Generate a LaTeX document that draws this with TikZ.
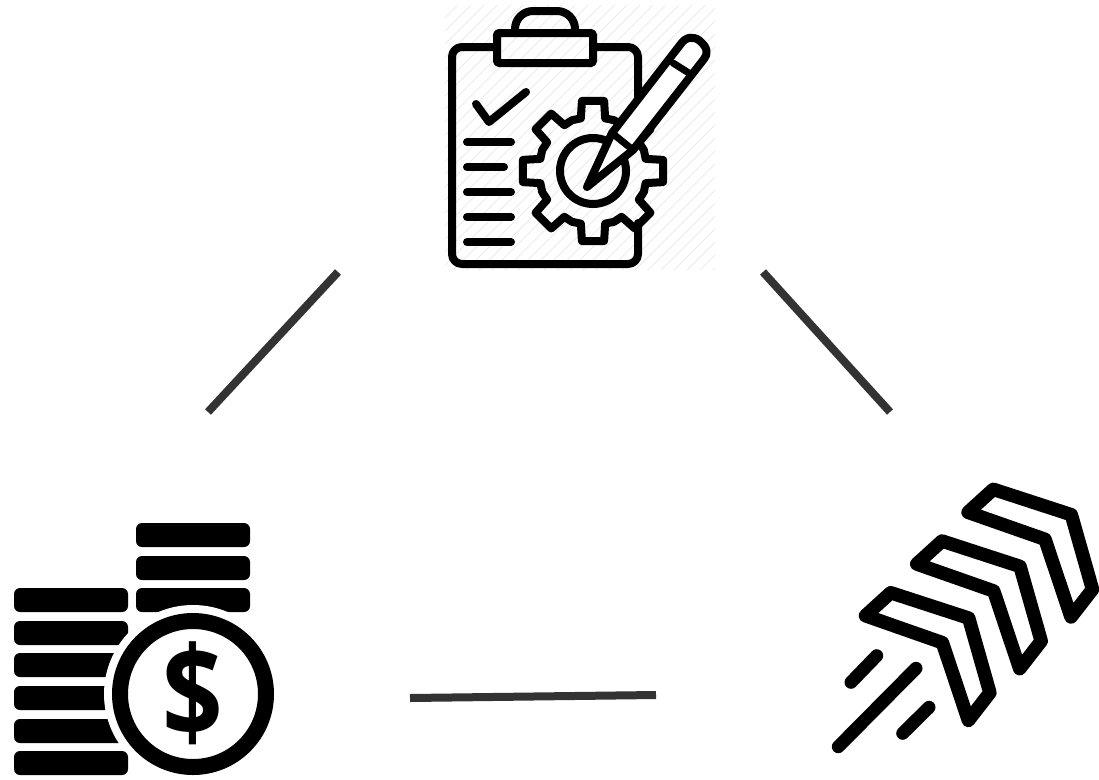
\documentclass[tikz,border=0pt]{standalone}
\usepackage{fontspec}
\newfontfamily\dollarfont{Open Sans}
\tikzset{
  link/.style={draw=black!80,line width=8pt},
  iconline/.style={draw=black,line width=8pt,line cap=round,line join=round},
  thinicon/.style={draw=black,line width=8pt,line cap=round,line join=round},
  chevron/.style={draw=black,line width=13.5pt,line join=round},
  speedline/.style={draw=black,line width=13pt,line cap=round},
  coinbar/.style={fill=black,rounded corners=6pt},
  hatch/.style={draw=black!9,line width=0.7pt}
}
\begin{document}
\begin{tikzpicture}[x=1pt,y=-1pt]
\useasboundingbox (0,0) rectangle (1099,779);
\fill[white] (0,0) rectangle (1099,779);
% hatch behind the clipboard
\begin{scope}
\clip (445,5) rectangle (715,270);
\foreach \k in {0,13,...,540}{
  \draw[hatch] (445+\k-265,270) -- (445+\k,5);
}
\end{scope}
% clipboard
\draw[iconline,rounded corners=10pt] (497,47) -- (452,47) -- (452,264) -- (638,264) -- (638,223);
\draw[iconline,rounded corners=10pt] (593,47) -- (638,47) -- (638,102);
\draw[iconline,rounded corners=1.5pt] (497,33) rectangle (593,63);
\draw[iconline,rounded corners=18pt] (515,33) -- (515,11) -- (575,11) -- (575,33);
\draw[thinicon] (476,104) -- (489,122) -- (526,92);
\foreach \yy/\xx in {142/511,167/504,192/511,217/511,242/511}{
  \draw[iconline] (467,\yy) -- (\xx,\yy);
}
% gear
\def\gearpath{
  ([shift={(593,171)}]-103:54)
  \foreach \a in {-90,-45,...,225}{
    -- ([shift={(593,171)}]\a-13:54) -- ([shift={(593,171)}]\a-9:71)
    -- ([shift={(593,171)}]\a+9:71) -- ([shift={(593,171)}]\a+13:54)
    -- ([shift={(593,171)}]\a+22.5:55) -- ([shift={(593,171)}]\a+32:54)
  } -- cycle
}
\draw[iconline] \gearpath;
\draw[line width=8pt] (593,171) circle[radius=33];
% pencil
\draw[thinicon,fill=white] (587,187) -- (612,133) -- (680,45)
  .. controls (686,36) and (694,36) .. (700,41)
  .. controls (708,48) and (708,54) .. (704,59) -- (633,150) -- cycle;
\draw[thinicon,line width=7pt] (612,133) -- (633,150);
\draw[thinicon,line width=7pt] (673,63) -- (692,75);
% coin stacks
\foreach \yy in {588,621,653,686,719}{
  \fill[coinbar] (14,\yy) rectangle (128,\yy+24);
}
\foreach \yy in {523,556,588}{
  \fill[coinbar] (136,\yy) rectangle (250,\yy+24);
}
\fill[white] (193,694) circle[radius=89];
\fill[coinbar] (14,751) rectangle (128,775);
\draw[line width=16pt,fill=white] (193,694) circle[radius=73];
\node[inner sep=0pt,xscale=.9,yscale=1.07] (dollar) at (193,693) {\dollarfont\bfseries\fontsize{118}{118}\selectfont\$};
% rocket chevrons
\foreach \dx/\dy in {0/0,-51.3/51.7,-102.6/103.4}{
  \begin{scope}[shift={(\dx,\dy)}]
    \draw[chevron] (993.3,489.3) -- (1071.3,514.7) -- (1092.5,589.3) -- (1071,617) -- (1045,539.3) -- (968,512.3) -- cycle;
  \end{scope}
}
\draw[speedline] (876.7,655.7) -- (851,682.3);
\draw[speedline] (916,668.3) -- (838.3,746.7);
\draw[speedline] (929,707.3) -- (902.7,733.3);
% connectors
\coordinate (la) at (338,272);
\coordinate (lb) at (208,412);
\coordinate (ra) at (763,272);
\coordinate (rb) at (890,412);
\coordinate (ba) at (410,698);
\coordinate (bb) at (656,695);
\draw[link] (la) -- (lb);
\draw[link] (ra) -- (rb);
\draw[link] (ba) -- (bb);
\end{tikzpicture}
\end{document}
